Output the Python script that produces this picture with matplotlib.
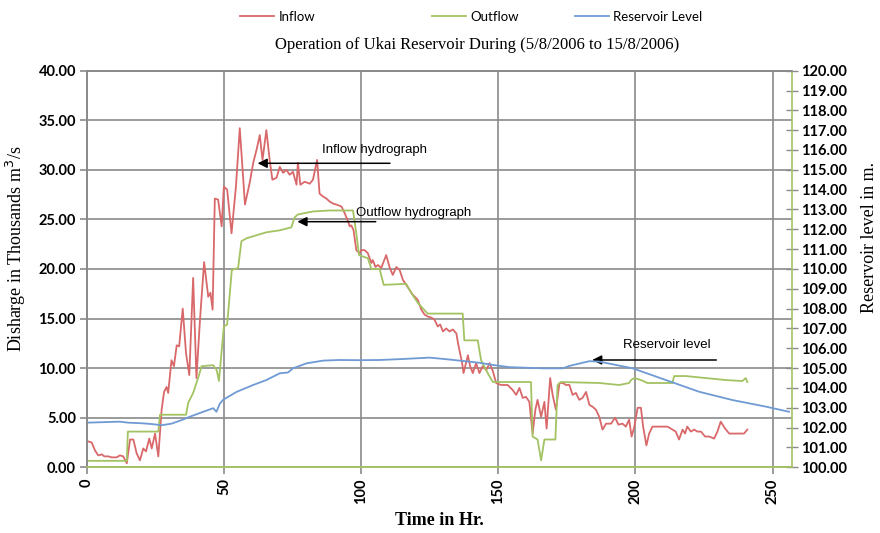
import matplotlib
matplotlib.use('Agg')
import matplotlib.pyplot as plt
import numpy as np

# inflow (thousand m3/s)
inflow_t = [0.5, 1.7, 2.9, 4.1, 5.4, 6.3, 7.8, 9.0, 10.8, 12.0, 13.2, 14.5, 15.7, 16.9,
            18.1, 19.3, 20.5, 21.5, 22.7, 23.6, 24.8, 26.0, 27.2, 28.1, 29.0, 29.6,
            30.8, 31.7, 32.7, 33.6, 34.9, 36.1, 37.3, 38.7, 39.9, 41.2, 42.7, 44.2,
            45.0, 45.8, 46.6, 47.8, 49.1, 49.9, 51.1, 52.7, 54.3, 55.7, 57.6, 59.4,
            60.6, 61.8, 63.0, 64.0, 65.4, 66.6, 67.6, 69.1, 70.3, 71.5, 72.7, 73.9,
            75.1, 76.4, 76.9, 77.8, 79.4, 81.2, 82.4, 83.9, 84.8, 86.1, 87.3, 88.5,
            89.7, 90.9, 92.8, 94.0, 95.2, 95.8, 96.4, 97.2, 98.2, 99.4, 100.0, 101.2,
            102.4, 103.7, 104.2, 105.2, 106.1, 107.3, 109.1, 110.3, 111.5, 112.8,
            114.0, 115.2, 116.4, 117.6, 118.8, 120.6, 121.9, 123.1, 124.3, 125.5,
            126.7, 127.9, 128.8, 129.8, 131.0, 132.2, 133.4, 134.7, 135.3, 136.8,
            137.3, 138.9, 139.7, 140.7, 141.9, 143.1, 144.3, 145.6, 146.8, 148.0,
            149.2, 151.0, 153.4, 155.2, 156.5, 157.7, 158.9, 160.1, 161.3, 162.5,
            163.5, 164.3, 165.6, 166.8, 167.6, 168.9, 169.8, 171.0, 172.3, 173.5,
            174.7, 175.9, 177.1, 178.3, 179.5, 180.7, 182.0, 183.2, 184.4, 185.6,
            186.8, 188.0, 189.3, 191.1, 192.6, 193.8, 195.3, 196.5, 197.7, 198.6,
            199.6, 200.8, 202.0, 202.8, 204.0, 205.0, 206.2, 208.0, 209.9, 211.7,
            212.9, 214.7, 215.9, 217.2, 218.1, 218.9, 220.2, 221.4, 222.6, 223.9,
            225.4, 226.9, 228.7, 229.9, 231.1, 232.7, 234.2, 236.0, 237.8, 239.6, 240.8]
inflow_q = [2.6, 2.5, 1.7, 1.2, 1.3, 1.1, 1.1, 1.0, 1.0, 1.2, 1.1, 0.4, 2.8, 2.8,
            1.4, 0.7, 1.9, 1.6, 2.9, 1.9, 3.4, 1.1, 5.8, 7.6, 8.1, 7.5,
            10.8, 10.2, 12.3, 12.2, 16.0, 11.5, 9.3, 19.1, 9.0, 14.9, 20.7, 17.2,
            17.6, 15.9, 27.1, 27.0, 24.3, 28.3, 28.0, 23.6, 28.3, 34.2, 26.5, 28.8,
            30.7, 32.0, 33.5, 31.0, 34.0, 31.0, 29.0, 29.2, 30.3, 29.7, 30.0, 29.5,
            29.8, 28.5, 30.7, 28.5, 28.8, 28.6, 29.0, 31.0, 27.6, 27.3, 27.1, 26.8,
            26.6, 26.5, 26.3, 25.6, 24.8, 24.3, 24.4, 23.9, 21.9, 21.6, 21.9, 21.9,
            21.6, 20.6, 20.9, 20.2, 20.4, 20.1, 21.4, 20.2, 19.4, 20.2,
            19.9, 18.9, 18.4, 17.9, 17.4, 16.9, 15.9, 15.4, 15.2, 15.1,
            14.9, 14.2, 14.4, 13.7, 14.0, 13.7, 13.9, 13.5, 12.5, 10.5,
            9.5, 11.3, 10.2, 9.5, 10.5, 9.5, 10.2, 9.8, 10.5, 9.7,
            8.5, 8.3, 8.3, 7.8, 7.3, 8.0, 7.0, 7.1, 6.6, 3.4,
            5.8, 6.8, 5.1, 6.6, 3.9, 9.0, 7.3, 5.8, 8.5, 8.5,
            8.3, 8.3, 7.3, 7.5, 6.8, 7.0, 7.6, 6.3, 6.1, 5.8,
            5.1, 3.8, 4.4, 4.4, 5.0, 4.3, 4.4, 4.1, 4.8, 3.1,
            4.1, 6.0, 6.0, 4.1, 2.2, 3.4, 4.1, 4.1, 4.1, 4.1,
            3.9, 3.6, 2.8, 3.8, 3.4, 4.1, 3.6, 3.8, 3.6, 3.6,
            3.1, 3.1, 2.9, 3.6, 4.6, 3.9, 3.4, 3.4, 3.4, 3.4, 3.8]

# outflow (thousand m3/s)
outflow_t = [0.0, 14.5, 14.9, 26.0, 26.6, 36.1, 36.9, 38.7, 40.5, 41.8, 46.0, 47.3, 48.1,
             49.9, 51.1, 52.8, 55.1, 56.3, 58.2, 61.8, 65.4, 70.3, 74.5, 75.7, 76.9,
             82.4, 88.5, 97.0, 98.2, 99.2, 101.2, 102.4, 103.7, 106.7, 108.2, 116.4,
             118.2, 120.6, 124.2, 137.0, 137.6, 142.5, 143.7, 146.1, 148.0, 161.9,
             162.5, 164.3, 165.6, 166.8, 170.8, 171.6, 172.8, 186.8, 194.1, 197.7,
             198.4, 199.6, 202.0, 204.4, 213.5, 214.1, 218.4, 225.6, 232.9, 239.0,
             240.2, 240.8]
outflow_q = [0.65, 0.65, 3.6, 3.6, 5.3, 5.3, 6.5, 7.5, 9.0, 10.2, 10.3, 9.8, 8.7,
             14.2, 14.4, 19.9, 20.1, 22.8, 23.1, 23.4, 23.7, 23.9, 24.2, 25.2, 25.5,
             25.8, 25.9, 25.9, 23.6, 21.4, 21.2, 21.1, 20.0, 20.0, 18.4, 18.5,
             17.6, 16.6, 15.5, 15.5, 12.8, 12.8, 10.8, 9.5, 8.6, 8.6,
             3.1, 2.8, 0.7, 2.8, 2.8, 8.3, 8.6, 8.5, 8.3, 8.5,
             8.8, 9.0, 8.8, 8.5, 8.5, 9.2, 9.2, 9.0, 8.8, 8.7,
             9.0, 8.6]

# reservoir level (m)
level_t = [0.0, 12.0, 15.0, 19.9, 23.6, 27.2, 30.8, 34.5, 37.5, 42.4, 46.0, 47.2, 48.4,
           49.6, 54.5, 60.6, 65.4, 70.3, 73.3, 75.1, 80.0, 86.1, 92.1, 99.4, 106.7,
           115.2, 124.9, 131.0, 135.8, 143.1, 148.0, 154.0, 166.2, 173.5, 175.9,
           180.7, 183.2, 186.8, 199.0, 211.1, 223.2, 235.4, 247.5, 256.0]
level_m = [102.25, 102.3, 102.25, 102.22, 102.18, 102.12, 102.2, 102.38, 102.55, 102.8,
           102.98, 102.8, 103.2, 103.4, 103.8, 104.15, 104.4, 104.74, 104.78, 104.99,
           105.24, 105.38, 105.41, 105.4, 105.41, 105.46, 105.53, 105.45, 105.38,
           105.27, 105.16, 105.05, 104.99, 104.99, 105.11, 105.27, 105.35, 105.33,
           104.99, 104.4, 103.81, 103.39, 103.06, 102.8]

x_ticks = [0, 50, 100, 150, 200, 250]
q_ticks = list(range(0, 41, 5))
lvl_ticks = list(range(100, 121))

red = '#d9686a'
green = '#a3c363'
blue = '#6f9ad4'
gridc = '#8a8a8a'

fig = plt.figure(figsize=(8.8, 5.33), dpi=100)
ax = fig.add_axes([0.0989, 0.1233, 0.8008, 0.7441])
ax2 = ax.twinx()

l1, = ax.plot(inflow_t, inflow_q, color=red, lw=1.3)
l2, = ax.plot(outflow_t, outflow_q, color=green, lw=1.3)
l3, = ax2.plot(level_t, level_m, color=blue, lw=1.3)

ax.set_xlim(0, 257)
ax.set_ylim(0, 40)
ax2.set_ylim(100, 120)

tick_font = dict(family='Lato', weight='bold', size=10.5)
ax.set_xticks(x_ticks)
ax.set_xticklabels([str(v) for v in x_ticks], rotation=90, **tick_font)
ax.set_yticks(q_ticks)
ax.set_yticklabels(['%.2f' % v for v in q_ticks], **tick_font)
ax2.set_yticks(lvl_ticks)
ax2.set_yticklabels(['%.2f' % v for v in lvl_ticks], **tick_font)

ax.grid(True, color=gridc, lw=1.2)
ax.set_axisbelow(True)
ax.tick_params(axis='both', color=gridc, length=5, width=1.2, pad=3)
ax2.tick_params(axis='y', color=gridc, length=8, width=1.0, direction='inout', pad=3)
for s in ['left', 'top']:
    ax.spines[s].set_color(gridc)
    ax2.spines[s].set_color(gridc)
ax.spines['bottom'].set_color(green)
ax2.spines['bottom'].set_color(green)
ax2.spines['right'].set_color(green)
ax.spines['right'].set_visible(False)
for s in list(ax.spines.values()) + list(ax2.spines.values()):
    s.set_linewidth(1.2)

serif = 'Liberation Serif'
ax.set_xlabel('Time in Hr.', family=serif, weight='bold', size=13, labelpad=6)
ax.set_ylabel('Disharge in Thousands m$^3$/s', family=serif, size=13)
ax.yaxis.set_label_coords(-0.084, 0.55)
ax2.set_ylabel('Reservoir level in m.', family=serif, size=13)
ax2.yaxis.set_label_coords(1.098, 0.58)

fig.text(0.542, 0.916, 'Operation of Ukai Reservoir During (5/8/2006 to 15/8/2006)',
         family=serif, size=12, ha='center', va='center')

# legend entries spaced like the original
leg_font = dict(family='Lato', size=9.5)
for h, lab, xpos in [(l1, 'Inflow', 240), (l2, 'Outflow', 432), (l3, 'Reservoir Level', 575)]:
    fig.legend([h], [lab], loc='center left', bbox_to_anchor=(xpos / 880, 0.968),
               frameon=False, handlelength=2.6, handletextpad=0.3,
               borderpad=0, borderaxespad=0, prop=leg_font)

ann_font = dict(family='Liberation Sans', size=9.5, ha='left', va='center')
arrow = dict(arrowstyle='-|>', color='black', lw=1.1, mutation_scale=14)
ax.text(85.6, 32.0, 'Inflow hydrograph', **ann_font)
ax.annotate('', xy=(61.2, 30.66), xytext=(111.5, 30.66), arrowprops=arrow)
ax.text(98.2, 25.6, 'Outflow hydrograph', **ann_font)
ax.annotate('', xy=(75.7, 24.77), xytext=(106.3, 24.77), arrowprops=arrow)
ax.text(195.3, 12.33, 'Reservoir level', **ann_font)
ax.annotate('', xy=(183.2, 10.82), xytext=(230.5, 10.82), arrowprops=arrow)

fig.savefig('out.png', dpi=100)
